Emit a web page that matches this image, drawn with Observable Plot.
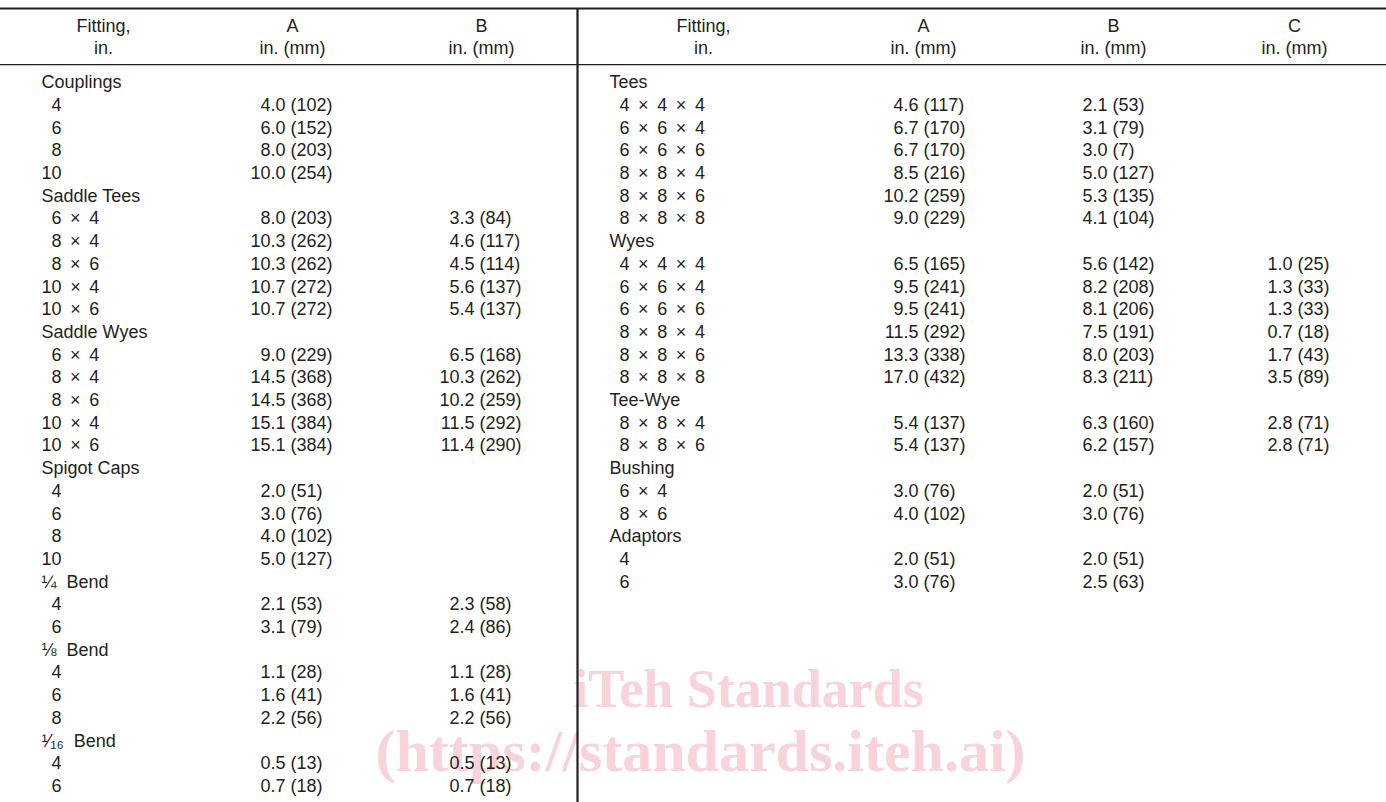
<!DOCTYPE html>
<html>
<head>
<meta charset="utf-8">
<script src="https://cdn.jsdelivr.net/npm/d3@7"></script>
<script src="https://cdn.jsdelivr.net/npm/@observablehq/plot@0.6"></script>
<style>
  html, body { margin: 0; padding: 0; background: #fff; }
  #chart svg { display: block; }
</style>
</head>
<body>
<div id="chart"></div>
<script>
// Left panel: [size, A in., A mm, B in., B mm]
const couplings   = [["4", 4.0, 102], ["6", 6.0, 152], ["8", 8.0, 203], ["10", 10.0, 254]];
const saddleTees  = [["6 × 4", 8.0, 203, 3.3, 84], ["8 × 4", 10.3, 262, 4.6, 117], ["8 × 6", 10.3, 262, 4.5, 114], ["10 × 4", 10.7, 272, 5.6, 137], ["10 × 6", 10.7, 272, 5.4, 137]];
const saddleWyes  = [["6 × 4", 9.0, 229, 6.5, 168], ["8 × 4", 14.5, 368, 10.3, 262], ["8 × 6", 14.5, 368, 10.2, 259], ["10 × 4", 15.1, 384, 11.5, 292], ["10 × 6", 15.1, 384, 11.4, 290]];
const spigotCaps  = [["4", 2.0, 51], ["6", 3.0, 76], ["8", 4.0, 102], ["10", 5.0, 127]];
const quarterBend = [["4", 2.1, 53, 2.3, 58], ["6", 3.1, 79, 2.4, 86]];
const eighthBend  = [["4", 1.1, 28, 1.1, 28], ["6", 1.6, 41, 1.6, 41], ["8", 2.2, 56, 2.2, 56]];
const sixteenthBend = [["4", 0.5, 13, 0.5, 13], ["6", 0.7, 18, 0.7, 18]];

// Right panel: [size, A in., A mm, B in., B mm, C in., C mm]
const tees     = [["4 × 4 × 4", 4.6, 117, 2.1, 53], ["6 × 6 × 4", 6.7, 170, 3.1, 79], ["6 × 6 × 6", 6.7, 170, 3.0, 7], ["8 × 8 × 4", 8.5, 216, 5.0, 127], ["8 × 8 × 6", 10.2, 259, 5.3, 135], ["8 × 8 × 8", 9.0, 229, 4.1, 104]];
const wyes     = [["4 × 4 × 4", 6.5, 165, 5.6, 142, 1.0, 25], ["6 × 6 × 4", 9.5, 241, 8.2, 208, 1.3, 33], ["6 × 6 × 6", 9.5, 241, 8.1, 206, 1.3, 33], ["8 × 8 × 4", 11.5, 292, 7.5, 191, 0.7, 18], ["8 × 8 × 6", 13.3, 338, 8.0, 203, 1.7, 43], ["8 × 8 × 8", 17.0, 432, 8.3, 211, 3.5, 89]];
const teeWye   = [["8 × 8 × 4", 5.4, 137, 6.3, 160, 2.8, 71], ["8 × 8 × 6", 5.4, 137, 6.2, 157, 2.8, 71]];
const bushing  = [["6 × 4", 3.0, 76, 2.0, 51], ["8 × 6", 4.0, 102, 3.0, 76]];
const adaptors = [["4", 2.0, 51, 2.0, 51], ["6", 3.0, 76, 2.5, 63]];

const leftGroups  = [["Couplings", couplings], ["Saddle Tees", saddleTees], ["Saddle Wyes", saddleWyes], ["Spigot Caps", spigotCaps], ["¼  Bend", quarterBend], ["⅛  Bend", eighthBend], ["¹⁄₁₆  Bend", sixteenthBend]];
const rightGroups = [["Tees", tees], ["Wyes", wyes], ["Tee-Wye", teeWye], ["Bushing", bushing], ["Adaptors", adaptors]];

const leftHeaders  = [["Fitting,", "in."], ["A", "in. (mm)"], ["B", "in. (mm)"]];
const rightHeaders = [["Fitting,", "in."], ["A", "in. (mm)"], ["B", "in. (mm)"], ["C", "in. (mm)"]];

const watermark = ["iTeh Standards", "(https://standards.iteh.ai)"];

// ---------- LAYOUT (table units) ----------
const W = 1386, H = 802;
const layout = {
  left:  {label: 41,  headers: [103, 292, 481],        values: [285, 474]},
  right: {label: 609, headers: [703, 923, 1113, 1294], values: [918, 1107, 1292]},
  digit: 10, gap: 5, divider: 577,
  mark: [{x: 748, row: 26.75, size: 54}, {x: 700, row: 29.5, size: 60}]
};

// ---------- BUILD CELLS ----------
const cellsStart = [], cellsEnd = [], cellsMid = [];
const spaced = s => s.replace(/ × /g, " \u2009×\u2009 ");
function addPanel(groups, L) {
  let r = 0;
  for (const [name, rows] of groups) {
    cellsStart.push({x: L.label, row: r++, text: name});
    for (const rec of rows) {
      const size = rec[0];
      const indent = /^\d(\D|$)/.test(size) ? layout.digit : 0;
      cellsStart.push({x: L.label + indent, row: r, text: spaced(size)});
      for (let k = 0; k < L.values.length; k++) {
        const inch = rec[1 + 2 * k], mm = rec[2 + 2 * k];
        if (inch == null) continue;
        cellsEnd.push({x: L.values[k], row: r, text: inch.toFixed(1)});
        cellsStart.push({x: L.values[k] + layout.gap, row: r, text: `(${mm})`});
      }
      r++;
    }
  }
}
addPanel(leftGroups, layout.left);
addPanel(rightGroups, layout.right);

function addHeaders(headers, L) {
  headers.forEach(([a, b], i) => {
    cellsMid.push({x: L.headers[i], row: -2.5, text: a});
    cellsMid.push({x: L.headers[i], row: -1.5, text: b});
  });
}
addHeaders(leftHeaders, layout.left);
addHeaders(rightHeaders, layout.right);

const FONT = "'Liberation Sans', Arimo, Helvetica, Arial, 'DejaVu Sans', sans-serif";
const INK = "#231f20";
const textOpts = {x: "x", y: "row", text: "text", fontSize: 18, fontFamily: FONT, fill: INK, lineAnchor: "middle"};
const markData = watermark.map((t, i) => ({t, ...layout.mark[i]}));

const chart = Plot.plot({
  width: W, height: H, margin: 0,
  x: {domain: [0, W], range: [0, W], axis: null},
  y: {domain: [-3.612, 31.718], range: [0, H], axis: null},
  style: {background: "#fff"},
  marks: [
    ...markData.map(d => Plot.text([d], {
      x: "x", y: "row", text: "t", textAnchor: "middle", lineAnchor: "middle",
      fontSize: d.size, fontWeight: "bold", fontFamily: "'Liberation Serif', 'DejaVu Serif', serif", fill: "#f9d3db"
    })),
    Plot.ruleY([-3.26], {x1: 0, x2: W, stroke: INK, strokeWidth: 2.2}),
    Plot.ruleY([-0.79], {x1: 0, x2: W, stroke: INK, strokeWidth: 1.3}),
    Plot.ruleX([layout.divider], {y1: -3.26, y2: 31.718, stroke: INK, strokeWidth: 2.2}),
    Plot.text(cellsStart, {...textOpts, textAnchor: "start"}),
    Plot.text(cellsEnd, {...textOpts, textAnchor: "end"}),
    Plot.text(cellsMid, {...textOpts, textAnchor: "middle"})
  ]
});
document.getElementById("chart").append(chart);
</script>
</body>
</html>
